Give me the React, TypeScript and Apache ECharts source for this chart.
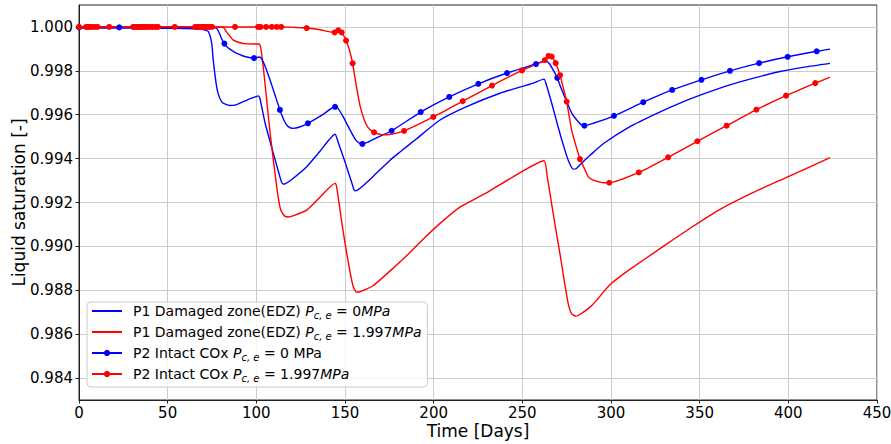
import React, { useEffect, useRef } from 'react';
import * as echarts from 'echarts';

// ---------- tick labels ----------
const xTicks = [0, 50, 100, 150, 200, 250, 300, 350, 400, 450];
const yTicks = [0.984, 0.986, 0.988, 0.99, 0.992, 0.994, 0.996, 0.998, 1.0];

// ---------- legend names ----------
const seriesNames = [
  'P1 Damaged zone(EDZ) Pc,e = 0MPa',
  'P1 Damaged zone(EDZ) Pc,e = 1.997MPa',
  'P2 Intact COx Pc,e = 0 MPa',
  'P2 Intact COx Pc,e = 1.997MPa',
];

// ---------- P1 Damaged zone (EDZ), Pc,e = 0 MPa (blue line) ----------
const edzPc0Days = [0, 20, 40, 60, 68.2, 70, 72.9, 74.8, 75.7, 77.3, 78.5, 80.4, 82.5, 85.2, 88, 90.8, 95, 99, 101.1, 102, 105, 109.6, 112.5, 114.2, 115.2, 116.5, 120, 128.4, 136, 144.4, 146, 150, 153.5, 155, 155.6, 157, 160, 166, 175.4, 181, 190, 203.6, 218.6, 237.4, 256.2, 262.2, 263.5, 267, 270, 273, 276, 278.7, 280.5, 283.3, 288.2, 296, 310.7, 325, 338.9, 353, 367.1, 381, 395.3, 409, 423.5];
const edzPc0Vals = [0.99995, 0.99995, 0.99994, 0.99993, 0.99991, 0.99988, 0.9998, 0.99927, 0.9985, 0.99744, 0.99695, 0.9966, 0.99648, 0.99642, 0.99644, 0.99653, 0.99668, 0.9968, 0.99686, 0.99675, 0.9956, 0.99424, 0.9934, 0.99293, 0.99284, 0.99286, 0.99305, 0.99363, 0.99435, 0.99511, 0.99478, 0.99385, 0.99298, 0.9926, 0.99253, 0.99256, 0.99275, 0.9932, 0.99393, 0.9943, 0.99488, 0.99576, 0.99637, 0.99698, 0.99744, 0.99762, 0.99738, 0.9964, 0.9955, 0.99465, 0.9939, 0.99352, 0.99355, 0.99378, 0.99415, 0.9947, 0.99546, 0.99603, 0.99653, 0.99697, 0.99736, 0.99768, 0.99797, 0.99817, 0.99834];

// ---------- P1 Damaged zone (EDZ), Pc,e = 1.997 MPa (red line) ----------
const edzPc2Days = [0, 40, 78, 81.4, 83, 85.2, 87, 90.8, 95, 101.5, 102.5, 104, 105.8, 108, 111.5, 113.3, 114.3, 116, 118, 121, 128.4, 136, 144.4, 145.3, 148, 151, 154.5, 156.6, 159, 166, 175, 185, 195, 203.6, 215, 230, 245, 262.2, 264, 265.6, 268, 271.2, 274, 275.9, 277.8, 280.3, 284, 288, 292, 296, 300, 305, 310, 329.5, 345, 361.5, 380, 400, 423.5];
const edzPc2Vals = [1.0, 1.0, 1.0, 0.99998, 0.9998, 0.99957, 0.9994, 0.99928, 0.99923, 0.99922, 0.99905, 0.9981, 0.9967, 0.995, 0.99271, 0.9918, 0.99157, 0.99138, 0.99134, 0.9914, 0.99165, 0.99225, 0.99287, 0.9927, 0.9912, 0.98967, 0.9882, 0.98791, 0.98795, 0.98822, 0.98885, 0.9896, 0.9904, 0.99105, 0.9918, 0.99245, 0.99318, 0.9939, 0.9932, 0.99241, 0.9912, 0.98967, 0.98825, 0.98738, 0.98693, 0.98682, 0.98698, 0.98722, 0.98755, 0.98795, 0.9883, 0.98862, 0.98892, 0.99, 0.99085, 0.99169, 0.99245, 0.99318, 0.99404];

// ---------- P2 Intact COx, Pc,e = 0 MPa (blue, markers) ----------
const intactPc0LineDays = [40, 60, 76, 78, 79.5, 80.5, 84, 87, 90, 94, 101.7, 103, 105, 107.7, 110.5, 116, 118, 120.8, 124, 137, 146, 149, 152.8, 156, 158.5, 163, 168, 262, 263.7, 265.5, 268, 272, 275, 278, 280.7, 283, 290, 423.5];
const intactPc0LineVals = [0.99998, 0.99998, 0.99997, 0.9999, 0.99965, 0.99945, 0.99905, 0.99889, 0.99876, 0.99864, 0.99863, 0.99855, 0.9982, 0.99759, 0.9969, 0.99568, 0.99546, 0.99538, 0.99543, 0.99598, 0.9963, 0.9959, 0.99531, 0.99485, 0.99468, 0.99475, 0.99496, 0.99842, 0.99843, 0.9983, 0.99795, 0.99718, 0.9966, 0.99605, 0.99576, 0.99556, 0.99561, 0.99899];
const intactPc0MarkDays = [0, 22.7, 82, 98.7, 113.3, 129.1, 144.4, 159.8, 176.3, 192.7, 208.8, 225.2, 241.4, 257.7, 269.7, 285, 301.7, 318.2, 334.5, 351, 367.1, 383.5, 399.6, 416];
const intactPc0MarkVals = [0.99998, 0.99998, 0.99924, 0.99858, 0.99622, 0.99561, 0.99636, 0.99467, 0.99527, 0.99612, 0.99681, 0.99741, 0.9979, 0.99831, 0.99768, 0.9955, 0.99595, 0.99657, 0.99713, 0.99759, 0.998, 0.99835, 0.99864, 0.99889];

// ---------- P2 Intact COx, Pc,e = 1.997 MPa (red, markers) ----------
const intactPc2LineDays = [120, 124, 136, 140, 152.5, 156, 158.5, 160.5, 162.2, 164, 169, 171.6, 176, 273, 277.8, 280, 285, 287.2, 290, 293.8, 296, 423.5];
const intactPc2LineVals = [0.99999, 0.99997, 0.99987, 0.9998, 0.99895, 0.9975, 0.9964, 0.99585, 0.99552, 0.99533, 0.99512, 0.99508, 0.99511, 0.99725, 0.9953, 0.99465, 0.99355, 0.99317, 0.99302, 0.99293, 0.9929, 0.99771];
const intactPc2MarkDays = [0, 4, 5, 6, 7.5, 9, 10.5, 17, 30.5, 31.5, 32.5, 33.5, 34.5, 35.5, 36.5, 37.5, 38.5, 40, 41.5, 43, 44.5, 54, 65.5, 66.5, 67.5, 68.5, 69.5, 70.5, 71.5, 72.5, 73.5, 75, 88, 101, 102.3, 105.5, 108.7, 111.5, 114, 128.4, 144.2, 146.2, 148.1, 150.6, 154.3, 166.4, 183.3, 199.8, 216.4, 232.9, 249.8, 262.7, 264.8, 266.6, 268.8, 271.3, 275, 282.5, 299, 315.7, 332.2, 348.7, 365.2, 382, 398.7, 415.2];
const intactPc2MarkVals = [1.0, 1.0, 1.0, 1.0, 1.0, 1.0, 1.0, 1.0, 1.0, 1.0, 1.0, 1.0, 1.0, 1.0, 1.0, 1.0, 1.0, 1.0, 1.0, 1.0, 1.0, 1.0, 1.0, 1.0, 1.0, 1.0, 1.0, 1.0, 1.0, 1.0, 1.0, 1.0, 1.0, 1.0, 1.0, 1.0, 1.0, 1.0, 1.0, 0.99995, 0.99975, 0.99985, 0.99975, 0.99938, 0.99834, 0.9952, 0.99526, 0.9959, 0.99662, 0.99733, 0.99802, 0.99849, 0.99868, 0.99865, 0.99835, 0.9978, 0.9966, 0.99398, 0.9929, 0.99337, 0.99406, 0.99479, 0.9955, 0.99623, 0.99687, 0.99744];

const BLUE = '#0000ff';
const RED = '#ff0000';
const FONT = 'DejaVu Sans';

function zip(days: number[], vals: number[]) {
  return days.map((d, i) => [d, vals[i]]);
}

function merged(lineDays: number[], lineVals: number[], markDays: number[], markVals: number[]) {
  const items: any[] = [];
  lineDays.forEach((d, i) => items.push({ value: [d, lineVals[i]], symbol: 'none' }));
  markDays.forEach((d, i) => items.push({ value: [d, markVals[i]] }));
  items.sort((a, b) => a.value[0] - b.value[0]);
  return items;
}

const legendRich: Record<string, string> = {
  [seriesNames[0]]: '{t0|P1 Damaged zone(EDZ) }{i|P}{s|c, e}{t| = 0}{i|MPa}',
  [seriesNames[1]]: '{t0|P1 Damaged zone(EDZ) }{i|P}{s|c, e}{t| = 1.997}{i|MPa}',
  [seriesNames[2]]: '{t0|P2 Intact COx }{i|P}{s|c, e}{t| = 0 MPa}',
  [seriesNames[3]]: '{t0|P2 Intact COx }{i|P}{s|c, e}{t| = 1.997}{i|MPa}',
};

export default function App() {
  const ref = useRef<HTMLDivElement>(null);
  useEffect(() => {
    const chart = echarts.init(ref.current!, null, { renderer: 'svg' });
    const lineBase = { type: 'line' as const, smooth: 0.2, lineStyle: { width: 1.4 }, emphasis: { disabled: true }, z: 2 };
    chart.setOption({
      animation: false,
      textStyle: { fontFamily: FONT },
      grid: { left: 79, right: 14, top: 5, bottom: 44, outerBoundsMode: 'none', containLabel: false, show: true, borderColor: '#222', borderWidth: 1, backgroundColor: 'transparent' },
      xAxis: {
        type: 'value', min: 0, max: 450, interval: 50,
        name: 'Time [Days]', nameLocation: 'middle', nameGap: 22, nameMoveOverlap: false,
        nameTextStyle: { fontFamily: FONT, fontSize: 17, color: '#000' },
        axisLine: { show: true, lineStyle: { color: '#222', width: 1 } },
        axisTick: { show: true, inside: false, length: 3.5, lineStyle: { color: '#222' } },
        axisLabel: { fontFamily: FONT, fontSize: 15, color: '#000', margin: 5, formatter: (v: number) => String(v) },
        splitLine: { show: true, lineStyle: { color: '#cccccc', width: 1 } },
      },
      yAxis: {
        type: 'value', min: 0.983, max: 1.001, scale: true,
        name: 'Liquid saturation [-]', nameLocation: 'middle', nameGap: 52, nameMoveOverlap: false,
        nameTextStyle: { fontFamily: FONT, fontSize: 17, color: '#000' },
        axisLine: { show: true, lineStyle: { color: '#222', width: 1 } },
        axisTick: { show: true, inside: false, length: 3.5, lineStyle: { color: '#222' }, customValues: yTicks },
        axisLabel: { fontFamily: FONT, fontSize: 15, color: '#000', margin: 6, customValues: yTicks, formatter: (v: number) => v.toFixed(3) },
        splitLine: { show: true, lineStyle: { color: '#cccccc', width: 1 } },
      },
      legend: {
        orient: 'vertical', left: 87, top: 302,
        data: [
          { name: seriesNames[0], itemStyle: { opacity: 0 } },
          { name: seriesNames[1], itemStyle: { opacity: 0 } },
          { name: seriesNames[2] },
          { name: seriesNames[3] },
        ],
        itemWidth: 30, itemHeight: 8, itemGap: 5,
        padding: [2, 6, 4, 4],
        borderColor: '#cccccc', borderWidth: 1, borderRadius: 4,
        backgroundColor: 'rgba(255,255,255,0.8)',
        formatter: (name: string) => legendRich[name] || name,
        textStyle: {
          fontFamily: FONT, fontSize: 14, color: '#000',
          rich: {
            t0: { fontFamily: FONT, fontSize: 14, color: '#000', lineHeight: 18, padding: [0, 0, 0, 6] },
            t: { fontFamily: FONT, fontSize: 14, color: '#000', lineHeight: 18 },
            i: { fontFamily: FONT, fontSize: 14, color: '#000', fontStyle: 'italic', lineHeight: 18 },
            s: { fontFamily: FONT, fontSize: 10, color: '#000', fontStyle: 'italic', lineHeight: 11, verticalAlign: 'bottom' },
          },
        },
      },
      series: [
        { ...lineBase, name: seriesNames[0], color: BLUE, symbol: 'none', data: zip(edzPc0Days, edzPc0Vals) },
        { ...lineBase, name: seriesNames[1], color: RED, symbol: 'none', data: zip(edzPc2Days, edzPc2Vals) },
        { ...lineBase, name: seriesNames[2], color: BLUE, symbol: 'circle', symbolSize: 6, showSymbol: true, showAllSymbol: true, data: merged(intactPc0LineDays, intactPc0LineVals, intactPc0MarkDays, intactPc0MarkVals) },
        { ...lineBase, name: seriesNames[3], color: RED, symbol: 'circle', symbolSize: 6, showSymbol: true, showAllSymbol: true, data: merged(intactPc2LineDays, intactPc2LineVals, intactPc2MarkDays, intactPc2MarkVals) },
      ],
    });
    return () => chart.dispose();
  }, []);
  return <div ref={ref} style={{ position: 'absolute', left: 0, top: 0, width: 891, height: 444 }} />;
}
